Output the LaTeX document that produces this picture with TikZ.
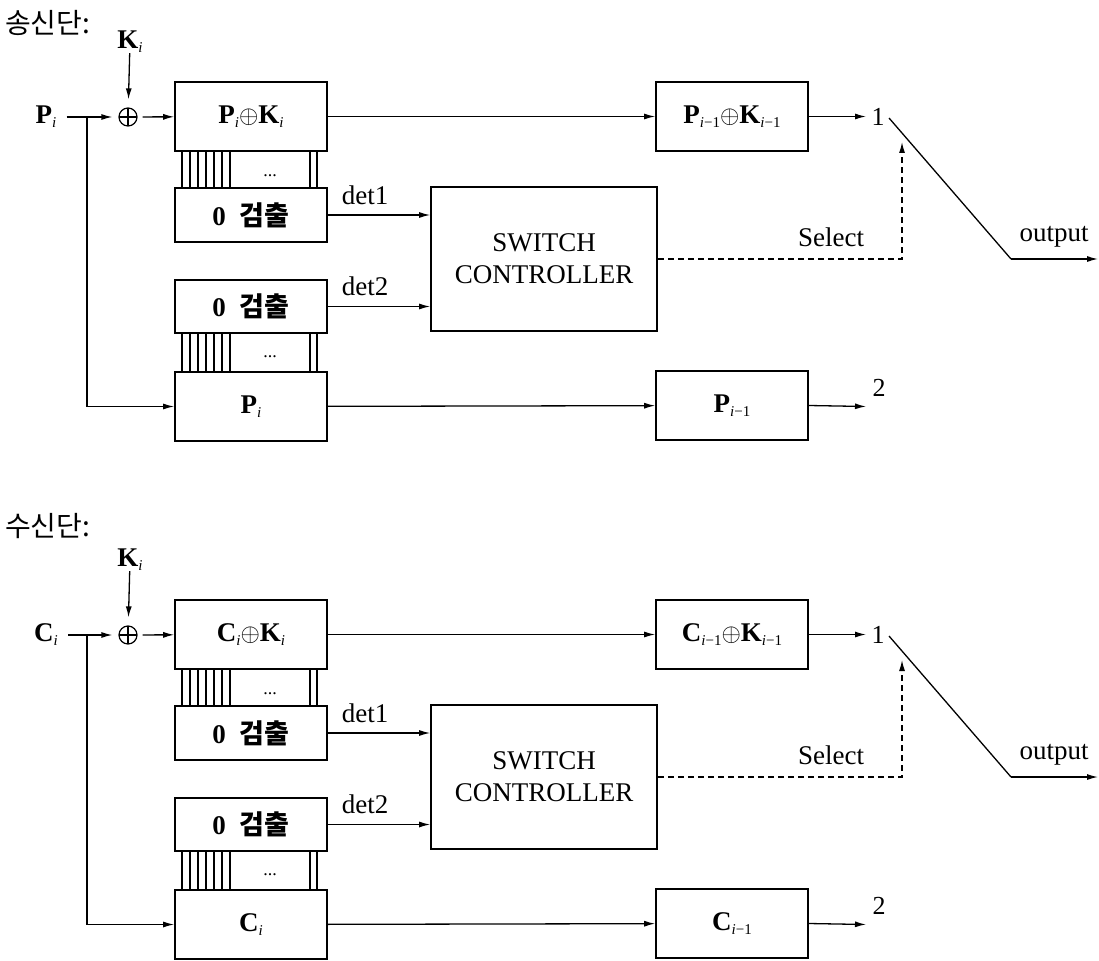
\documentclass[tikz,border=0pt]{standalone}
\usepackage{fontspec}
\setmainfont{Liberation Serif}
\newfontfamily\kr{Noto Sans CJK KR}
\usetikzlibrary{arrows.meta}
\newcommand\sbs[1]{\raisebox{-4pt}{\fontsize{15}{15}\selectfont #1}}
\tikzset{
  x=1pt, y=-1pt,
  every node/.style={font=\fontsize{27}{30}\selectfont, inner sep=0pt},
  blk/.style={draw, line width=1.6pt, minimum width=152pt, inner sep=0pt},
  conn/.style={line width=1.3pt, -{Latex[length=11pt,width=6pt]}},
  plainline/.style={line width=1.3pt},
  busline/.style={line width=1.2pt},
  xorsym/.style={circle, draw, line width=1.2pt, minimum size=18pt, inner sep=0pt,
    path picture={\draw[line width=1.2pt] (path picture bounding box.north) -- (path picture bounding box.south)
      (path picture bounding box.west) -- (path picture bounding box.east);}},
  sel/.style={conn, dash pattern=on 6pt off 4pt},
  smalllab/.style={font=\fontsize{26}{28}\selectfont},
  dotlab/.style={font=\fontsize{18}{18}\selectfont},
  titlelab/.style={font=\kr\fontsize{28}{30}\selectfont, anchor=west},
}
\newcommand\halfdiag[2]{%
\begin{scope}[yshift=#2, name prefix=#1-]
  \node (k) at (130,42) {\textbf{K}\sbs{\textit{i}}};
  \node[xorsym] (xor) at (128,117) {};
  \node (src) at (46,117) {\textbf{#1}\sbs{\textit{i}}};
  \coordinate (br) at (87,117);
  \node[blk, minimum height=69pt] (boxA) at (251,116.5) {\textbf{#1}\sbs{\textit{i}}$\oplus$\textbf{K}\sbs{\textit{i}}};
  \node[blk, minimum height=54pt] (detA) at (251,215) {\textbf{0}\hspace{14pt}{\kr\bfseries 검출}};
  \node[blk, minimum height=53pt] (detB) at (251,306.5) {\textbf{0}\hspace{14pt}{\kr\bfseries 검출}};
  \node[blk, minimum height=69pt] (boxB) at (251,406.5) {\textbf{#1}\sbs{\textit{i}}};
  \node[blk, minimum width=226pt, minimum height=144pt, align=center] (sw) at (544,259) {SWITCH\\[2pt]CONTROLLER};
  \node[blk, minimum height=69pt] (regA) at (732,116.5) {\textbf{#1}\sbs{\textit{i}−1}$\oplus$\textbf{K}\sbs{\textit{i}−1}};
  \node[blk, minimum height=69pt] (regB) at (732,405.5) {\textbf{#1}\sbs{\textit{i}−1}};
  \coordinate (o1) at (866,116.5);
  \coordinate (o2) at (866,406.5);
  \node[smalllab] (n1) at (878,117) {1};
  \node[smalllab] (n2) at (879,388) {2};
  \coordinate (swA) at (889,118);
  \coordinate (swB) at (1011,259);
  \coordinate (out) at (1098,259);
  \coordinate (selC) at (902,259);
  \coordinate (selT) at (902,142);
  \node (lsel) at (831,237) {Select};
  \node (lout) at (1054,237) {output};
  \node (ldet1) at (365,195) {det1};
  \node (ldet2) at (365,286) {det2};
  \node[dotlab] (dotA) at (270,176) {...};
  \node[dotlab] (dotB) at (270,357) {...};
  % connectors
  \draw[conn, shorten >=8pt] (k) -- (xor);
  \draw[conn, shorten <=10pt, shorten >=6pt] (src) -- (xor);
  \draw[conn, shorten <=5pt] (xor) -- (boxA);
  \draw[conn] (br) |- (boxB.west);
  \draw[conn] (boxA) -- (regA);
  \draw[conn] (boxB) -- (regB);
  \draw[conn] (regA) -- (o1);
  \draw[conn] (regB.east) -- (o2);
  \draw[conn] (detA.east) -- (detA.east -| sw.west);
  \draw[conn] (detB.east) -- (detB.east -| sw.west);
  \draw[plainline] (swA) -- (swB);
  \draw[conn] (swB) -- (out);
  \draw[sel] (sw.east |- selC) -- (selC) -- (selT);
  \foreach \bx in {182,190,198,206,214,222,230,310,317} {
    \draw[busline] (\bx,0 |- boxA.south) -- (\bx,0 |- detA.north);
    \draw[busline] (\bx,0 |- detB.south) -- (\bx,0 |- boxB.north);
  }
\end{scope}}
\begin{document}
\begin{tikzpicture}
  \useasboundingbox (0,0) rectangle (1099,960);
  \node[titlelab] (t1) at (5,23) {송신단:};
  \node[titlelab] (t2) at (5,526) {수신단:};
  \halfdiag{P}{0pt}
  \halfdiag{C}{-518pt}
\end{tikzpicture}
\end{document}
